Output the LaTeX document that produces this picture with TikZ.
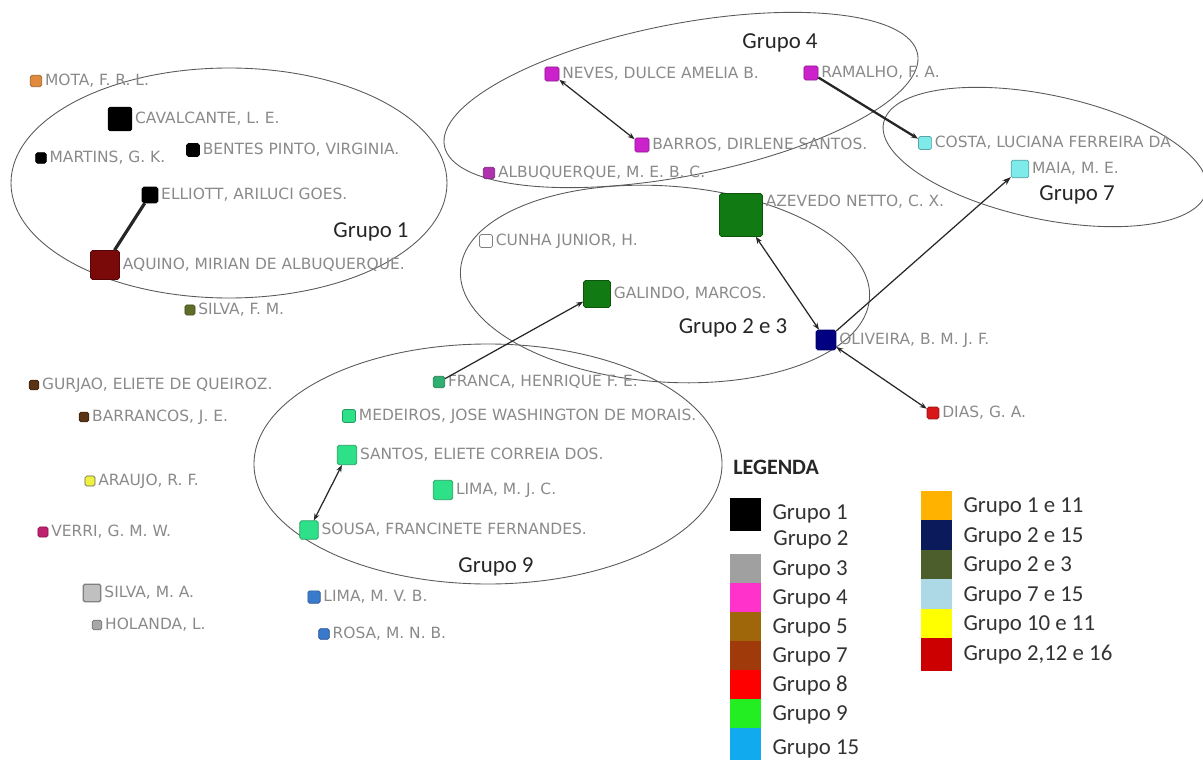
\documentclass[tikz,border=0pt]{standalone}
\usepackage{fontspec}
\setmainfont{Carlito}
\newfontfamily\nomefont{DejaVu Sans}
\usepackage{tikz}
\usetikzlibrary{positioning, arrows.meta}

\definecolor{nomecinza}{HTML}{8A8A8A}
\definecolor{laranja}{HTML}{E08A3C}
\definecolor{vinho}{HTML}{7A0A0A}
\definecolor{oliva}{HTML}{5E6E28}
\definecolor{roxo}{HTML}{CC22CC}
\definecolor{roxoclaro}{HTML}{B030B0}
\definecolor{ciano}{HTML}{7FEAEA}
\definecolor{verdeesc}{HTML}{127A12}
\definecolor{marinho}{HTML}{000080}
\definecolor{vermelho}{HTML}{D81818}
\definecolor{verdemed}{HTML}{30B070}
\definecolor{verdeclaro}{HTML}{2EE088}
\definecolor{azul}{HTML}{3A7ACC}
\definecolor{marrom}{HTML}{5A3414}
\definecolor{amarelo}{HTML}{F0F040}
\definecolor{rosa}{HTML}{C02070}
\definecolor{cinza}{HTML}{C0C0C0}
\definecolor{cinzaesc}{HTML}{A8A8A8}
% legenda
\definecolor{lg3}{HTML}{A0A0A0}
\definecolor{lg4}{HTML}{FF33CC}
\definecolor{lg5}{HTML}{A0660A}
\definecolor{lg7}{HTML}{A03A0A}
\definecolor{lg8}{HTML}{FF0000}
\definecolor{lg9}{HTML}{22EE22}
\definecolor{lg15}{HTML}{11AAEE}
\definecolor{lgA}{HTML}{FFB300}
\definecolor{lgB}{HTML}{0A1A5A}
\definecolor{lgC}{HTML}{4B5E2B}
\definecolor{lgD}{HTML}{ADD8E6}
\definecolor{lgE}{HTML}{FFFF00}
\definecolor{lgF}{HTML}{CC0000}

\begin{document}
\begin{tikzpicture}[x=0.02cm, y=-0.02cm,
	pessoa/.style={rectangle, rounded corners=1pt, inner sep=0pt, fill=#1, draw=#1!70!black, line width=0.4pt},
	nome/.style={inner sep=0pt, text=nomecinza, font=\nomefont\fontsize{8.8}{9}\selectfont},
	grupo/.style={draw=black!65, line width=0.5pt},
	rotulo/.style={inner sep=0pt, text=black!85, font=\fontsize{13}{15}\selectfont},
	liga/.style={draw=black!85, line width=0.7pt},
	amostra/.style={rectangle, inner sep=0pt, minimum width=17pt, minimum height=18pt, fill=#1, draw=#1, line width=0.3pt},
	legtxt/.style={inner sep=0pt, text=black!80, font=\fontsize{13}{15}\selectfont}
	]
	\useasboundingbox (0,0) rectangle (1203,760);

	\draw[grupo] (229,183) ellipse [x radius=218, y radius=115];
	\draw[grupo, rotate around={11:(681,100)}] (681,100) ellipse [x radius=241, y radius=76];
	\draw[grupo, rotate around={-12:(1045,157)}] (1045,157) ellipse [x radius=165, y radius=62];
	\draw[grupo, rotate around={-4:(665,284)}] (665,284) ellipse [x radius=205, y radius=98];
	\draw[grupo] (488,464) ellipse [x radius=234, y radius=120];

	\node[rotulo] (g1) at (371,232) {Grupo 1};
	\node[rotulo] (g4) at (780,43) {Grupo 4};
	\node[rotulo] (g7) at (1077,195) {Grupo 7};
	\node[rotulo] (g23) at (733,328) {Grupo 2 e 3};
	\node[rotulo] (g9) at (496,567) {Grupo 9};

	\node[pessoa=laranja, minimum size=6.5pt] (mota) at (36,81) {};
	\node[nome, right=1.5pt of mota] (nmota) {MOTA, F. R. L.};
	\node[pessoa=black, minimum size=13.5pt] (cavalcante) at (120,119) {};
	\node[nome, right=1.5pt of cavalcante] (ncavalcante) {CAVALCANTE, L. E.};
	\node[pessoa=black, minimum size=6pt] (martins) at (41,158) {};
	\node[nome, right=1.5pt of martins] (nmartins) {MARTINS, G. K.};
	\node[pessoa=black, minimum size=7.3pt] (bentes) at (193,150) {};
	\node[nome, right=1.5pt of bentes] (nbentes) {BENTES PINTO, VIRGINIA.};
	\node[pessoa=black, minimum size=9pt] (elliott) at (150,195) {};
	\node[nome, right=1.5pt of elliott] (nelliott) {ELLIOTT, ARILUCI GOES.};
	\node[pessoa=vinho, minimum size=16.5pt] (aquino) at (105,265) {};
	\node[nome, right=1.5pt of aquino] (naquino) {AQUINO, MIRIAN DE ALBUQUERQUE.};
	\node[pessoa=oliva, minimum size=5.7pt] (silvafm) at (190,310) {};
	\node[nome, right=1.5pt of silvafm] (nsilvafm) {SILVA, F. M.};

	\node[pessoa=roxo, minimum size=8pt] (neves) at (552,74) {};
	\node[nome, right=1.5pt of neves] (nneves) {NEVES, DULCE AMELIA B.};
	\node[pessoa=roxo, minimum size=8pt] (ramalho) at (811,73) {};
	\node[nome, right=1.5pt of ramalho] (nramalho) {RAMALHO, F. A.};
	\node[pessoa=roxo, minimum size=8pt] (barros) at (642,145) {};
	\node[nome, right=1.5pt of barros] (nbarros) {BARROS, DIRLENE SANTOS.};
	\node[pessoa=roxoclaro, minimum size=6.5pt] (albuquerque) at (489,173) {};
	\node[nome, right=1.5pt of albuquerque] (nalbuquerque) {ALBUQUERQUE, M. E. B. C.};

	\node[pessoa=ciano, minimum size=7.5pt] (costa) at (925,143) {};
	\node[nome, right=1.5pt of costa] (ncosta) {COSTA, LUCIANA FERREIRA DA};
	\node[pessoa=ciano, minimum size=10pt] (maia) at (1020,169) {};
	\node[nome, right=1.5pt of maia] (nmaia) {MAIA, M. E.};

	\node[pessoa=verdeesc, minimum size=24.4pt] (azevedo) at (741,215) {};
	\node[nome, right=1.5pt of azevedo.north east, anchor=north west, yshift=-1pt] (nazevedo) {AZEVEDO NETTO, C. X.};
	\node[pessoa=white, draw=gray, minimum size=7.5pt] (cunha) at (486,241) {};
	\node[nome, right=1.5pt of cunha] (ncunha) {CUNHA JUNIOR, H.};
	\node[pessoa=verdeesc, minimum size=15.3pt] (galindo) at (597,294) {};
	\node[nome, right=1.5pt of galindo] (ngalindo) {GALINDO, MARCOS.};
	\node[pessoa=marinho, minimum size=11.3pt] (oliveira) at (826,340) {};
	\node[nome, right=1.5pt of oliveira] (noliveira) {OLIVEIRA, B. M. J. F.};
	\node[pessoa=vermelho, minimum size=6.8pt] (dias) at (933,413) {};
	\node[nome, right=1.5pt of dias] (ndias) {DIAS, G. A.};

	\node[pessoa=marrom, minimum size=5.5pt] (gurjao) at (34,385) {};
	\node[nome, right=1.5pt of gurjao] (ngurjao) {GURJAO, ELIETE DE QUEIROZ.};
	\node[pessoa=marrom, minimum size=5.5pt] (barrancos) at (84,417) {};
	\node[nome, right=1.5pt of barrancos] (nbarrancos) {BARRANCOS, J. E.};
	\node[pessoa=amarelo, draw=black!60, minimum size=5.7pt] (araujo) at (90,481) {};
	\node[nome, right=1.5pt of araujo] (naraujo) {ARAUJO, R. F.};
	\node[pessoa=rosa, minimum size=5.7pt] (verri) at (43,532) {};
	\node[nome, right=1.5pt of verri] (nverri) {VERRI, G. M. W.};
	\node[pessoa=cinza, draw=gray, line width=0.8pt, minimum size=10pt] (silvama) at (92,593) {};
	\node[nome, right=1.5pt of silvama] (nsilvama) {SILVA, M. A.};
	\node[pessoa=cinzaesc, draw=black!55, minimum size=5.5pt] (holanda) at (97,625) {};
	\node[nome, right=1.5pt of holanda] (nholanda) {HOLANDA, L.};

	\node[pessoa=verdemed, minimum size=6.5pt] (franca) at (439,382) {};
	\node[nome, right=1.5pt of franca] (nfranca) {FRANCA, HENRIQUE F. E.};
	\node[pessoa=verdeclaro, minimum size=7.5pt] (medeiros) at (349,416) {};
	\node[nome, right=1.5pt of medeiros] (nmedeiros) {MEDEIROS, JOSE WASHINGTON DE MORAIS.};
	\node[pessoa=verdeclaro, minimum size=11pt] (santos) at (347,455) {};
	\node[nome, right=1.5pt of santos] (nsantos) {SANTOS, ELIETE CORREIA DOS.};
	\node[pessoa=verdeclaro, minimum size=11pt] (limamjc) at (443,490) {};
	\node[nome, right=1.5pt of limamjc] (nlimamjc) {LIMA, M. J. C.};
	\node[pessoa=verdeclaro, minimum size=10.5pt] (sousa) at (309,530) {};
	\node[nome, right=1.5pt of sousa] (nsousa) {SOUSA, FRANCINETE FERNANDES.};
	\node[pessoa=azul, minimum size=7pt] (limamvb) at (314,597) {};
	\node[nome, right=1.5pt of limamvb] (nlimamvb) {LIMA, M. V. B.};
	\node[pessoa=azul, minimum size=6pt] (rosa) at (324,634) {};
	\node[nome, right=1.5pt of rosa] (nrosa) {ROSA, M. N. B.};

	\path[liga]
	(elliott) edge[line width=1.8pt] (aquino)
	(neves) edge[{Stealth[length=4pt,width=3pt]}-{Stealth[length=4pt,width=3pt]}] (barros)
	(ramalho) edge[line width=1.3pt, -{Stealth[length=4pt,width=3pt]}] (costa)
	(oliveira) edge[-{Stealth[length=5pt,width=3.5pt]}] (maia)
	(oliveira) edge[{Stealth[length=4pt,width=3pt]}-{Stealth[length=4pt,width=3pt]}] (azevedo)
	(oliveira) edge[{Stealth[length=4pt,width=3pt]}-{Stealth[length=4pt,width=3pt]}] (dias)
	(franca) edge[-{Stealth[length=4pt,width=3pt]}] (galindo)
	(santos) edge[{Stealth[length=4pt,width=3pt]}-{Stealth[length=4pt,width=3pt]}] (sousa)
	;

	\node[inner sep=0pt, anchor=west, text=black!85, font=\bfseries\fontsize{12.5}{14}\selectfont] (legenda) at (733,467) {LEGENDA};

	\node[amostra=black] (l1) at (745,514) {};
	\node[legtxt, right=6.8pt of l1] (t1) {Grupo 1};
	\node[legtxt, anchor=west] (t2) at (773,540) {Grupo 2};
	\node[amostra=lg3] (l3) at (745,570) {};
	\node[amostra=lg4] (l4) at (745,599) {};
	\node[amostra=lg5] (l5) at (745,628) {};
	\node[amostra=lg7] (l7) at (745,657) {};
	\node[amostra=lg8] (l8) at (745,686) {};
	\node[amostra=lg9] (l9) at (745,715) {};
	\node[amostra=lg15] (l15) at (745,744) {};
	\node[legtxt, right=6.8pt of l3] (t3) {Grupo 3};
	\node[legtxt, right=6.8pt of l4] (t4) {Grupo 4};
	\node[legtxt, right=6.8pt of l5] (t5) {Grupo 5};
	\node[legtxt, right=6.8pt of l7] (t7) {Grupo 7};
	\node[legtxt, right=6.8pt of l8] (t8) {Grupo 8};
	\node[legtxt, right=6.8pt of l9] (t9) {Grupo 9};
	\node[legtxt, right=6.8pt of l15, yshift=-3pt] (t15) {Grupo 15};

	\node[amostra=lgA] (lA) at (936,507) {};
	\node[amostra=lgB] (lB) at (936,536.5) {};
	\node[amostra=lgC] (lC) at (936,566) {};
	\node[amostra=lgD] (lD) at (936,595.5) {};
	\node[amostra=lgE] (lE) at (936,625) {};
	\node[amostra=lgF] (lF) at (936,654.5) {};
	\node[legtxt, right=6.8pt of lA] (tA) {Grupo 1 e 11};
	\node[legtxt, right=6.8pt of lB] (tB) {Grupo 2 e 15};
	\node[legtxt, right=6.8pt of lC] (tC) {Grupo 2 e 3};
	\node[legtxt, right=6.8pt of lD] (tD) {Grupo 7 e 15};
	\node[legtxt, right=6.8pt of lE] (tE) {Grupo 10 e 11};
	\node[legtxt, right=6.8pt of lF] (tF) {Grupo 2,12 e 16};
\end{tikzpicture}
\end{document}
